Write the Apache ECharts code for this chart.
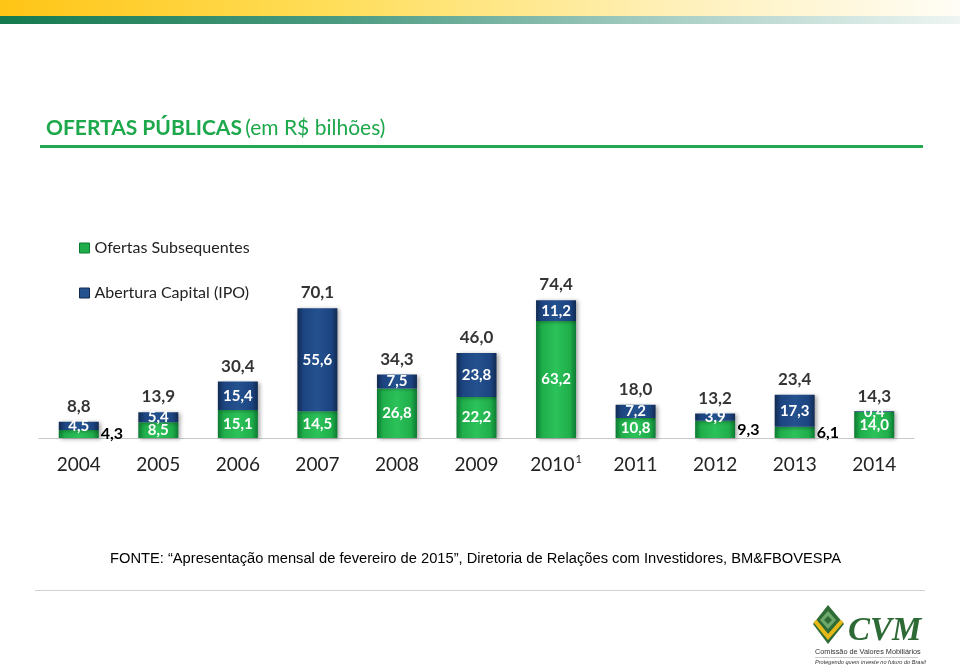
<!DOCTYPE html>
<html>
<head>
<meta charset="utf-8">
<script src="https://cdn.jsdelivr.net/npm/echarts@6/dist/echarts.min.js"></script>
<style>html,body{margin:0;padding:0;background:#fff}#c{width:960px;height:671px}</style>
</head>
<body>
<div id="c"></div>
<script>
const years = ['2004','2005','2006','2007','2008','2009','2010','2011','2012','2013','2014'];
const subsequentes = [4.3, 8.5, 15.1, 14.5, 26.8, 22.2, 63.2, 10.8, 9.3, 6.1, 14.0];
const ipo = [4.5, 5.4, 15.4, 55.6, 7.5, 23.8, 11.2, 7.2, 3.9, 17.3, 0.4];
const totals = [8.8, 13.9, 30.4, 70.1, 34.3, 46.0, 74.4, 18.0, 13.2, 23.4, 14.3];
const seriesNames = ['Ofertas Subsequentes', 'Abertura Capital (IPO)'];

const outsideGreen = [0, 8, 9]; // labels drawn to the right of the bar
const fmt = v => v.toFixed(1).replace('.', ',');
const F = 'Lato, "Open Sans", sans-serif';

const greenGrad = {type:'linear',x:0,y:0,x2:1,y2:0,colorStops:[
  {offset:0,color:'#0d7a33'},{offset:0.15,color:'#1fae4a'},{offset:0.5,color:'#2cc25a'},{offset:0.85,color:'#1fae4a'},{offset:1,color:'#0d7a33'}]};
const blueGrad = {type:'linear',x:0,y:0,x2:1,y2:0,colorStops:[
  {offset:0,color:'#112a52'},{offset:0.15,color:'#1c4480'},{offset:0.5,color:'#24528f'},{offset:0.85,color:'#1c4480'},{offset:1,color:'#112a52'}]};

const greenData = subsequentes.map((v,i) => outsideGreen.includes(i)
  ? {value:v, label:{position:'right', distance:2, color:'#000', fontSize:16}}
  : {value:v});

const chart = echarts.init(document.getElementById('c'), null, {renderer:'canvas'});
chart.setOption({
  animation:false,
  backgroundColor:'#fff',
  grid:{left:39, right:46, top:290, bottom:671-438},
  legend:{
    orient:'vertical', left:74, top:235, itemWidth:10, itemHeight:10, itemGap:29,
    textStyle:{fontFamily:F, fontSize:16, color:'#222'},
    data:[
      {name:seriesNames[0], icon:'rect', itemStyle:{color:'#1fae4a', borderColor:'#0d7a33', borderWidth:1}},
      {name:seriesNames[1], icon:'rect', itemStyle:{color:'#24528f', borderColor:'#112a52', borderWidth:1}}
    ]
  },
  xAxis:{
    type:'category', data:years,
    axisLine:{lineStyle:{color:'#c8c8c8', width:1}},
    axisTick:{show:false},
    axisLabel:{
      interval:0,
      fontFamily:F, fontSize:19, lineHeight:22, color:'#222', margin:16,
      formatter: v => v === '2010' ? '{a|2010}{s|1}' : v,
      rich:{a:{fontFamily:F, fontSize:19, lineHeight:22, color:'#222'}, s:{fontFamily:F, fontSize:11, lineHeight:12, color:'#222', verticalAlign:'top', padding:[0,0,0,1]}}
    }
  },
  yAxis:{type:'value', min:0, max:80, show:false, splitLine:{show:false}},
  series:[
    {
      name:seriesNames[0], type:'bar', stack:'t', barWidth:40, data:greenData,
      itemStyle:{color:greenGrad, shadowBlur:4, shadowColor:'rgba(0,0,0,0.35)', shadowOffsetX:2, shadowOffsetY:1},
      label:{show:true, position:'inside', formatter:p => fmt(p.value), fontFamily:F, fontWeight:'bold', fontSize:15, color:'#fff'}
    },
    {
      name:seriesNames[1], type:'bar', stack:'t', barWidth:40, data:ipo,
      itemStyle:{color:blueGrad, shadowBlur:4, shadowColor:'rgba(0,0,0,0.35)', shadowOffsetX:2, shadowOffsetY:1},
      label:{show:true, position:'inside', formatter:p => fmt(p.value), fontFamily:F, fontWeight:'bold', fontSize:15, color:'#fff'}
    },
    {
      name:'Total', type:'scatter', data:totals, symbolSize:0, silent:true,
      label:{show:true, position:'top', distance:7, formatter:p => fmt(p.value), fontFamily:F, fontWeight:'bold', fontSize:17, color:'#000'}
    }
  ],
  graphic:[
    {type:'rect', shape:{x:0,y:0,width:960,height:16}, style:{fill:{type:'linear',x:0,y:0,x2:1,y2:0,colorStops:[
      {offset:0,color:'#ffc515'},{offset:0.35,color:'#ffde5a'},{offset:0.7,color:'#fff0b8'},{offset:1,color:'#fffdf6'}]}}},
    {type:'rect', shape:{x:0,y:16,width:960,height:8}, style:{fill:{type:'linear',x:0,y:0,x2:1,y2:0,colorStops:[
      {offset:0,color:'#157a4e'},{offset:0.35,color:'#4a9a80'},{offset:0.7,color:'#a9cfc4'},{offset:1,color:'#eef5f3'}]}}},
    {type:'text', left:46, top:118, style:{
      text:'{b|OFERTAS PÚBLICAS} {n|(em R$ bilhões)}',
      rich:{b:{fontFamily:F, fontWeight:'bold', fontSize:21, fill:'#1da84c'}, n:{fontFamily:F, fontSize:21, fill:'#1da84c'}}}},
    {type:'rect', shape:{x:40,y:145,width:883,height:3}, style:{fill:'#22a94f'}},
    {type:'text', left:110, top:551, style:{
      text:'FONTE: \u201cApresentação mensal de fevereiro de 2015\u201d, Diretoria de Relações com Investidores, BM&FBOVESPA',
      fontFamily:'"Liberation Sans", Arial, sans-serif', fontSize:14.7, fill:'#000'}},
    {type:'rect', shape:{x:35,y:590,width:890,height:1}, style:{fill:'#d2d2d2'}},
    // CVM logo
    {type:'polygon', shape:{points:[[828,605],[844,624],[828,644],[813,624]]}, style:{fill:'#2f6b35'}},
    {type:'polyline', shape:{points:[[815,621],[828,637],[842,621]]}, style:{stroke:'#e8b818', lineWidth:4, fill:null}},
    {type:'polygon', shape:{points:[[828,611],[836,620],[828,629],[820,620]]}, style:{fill:'#6fa86c'}},
    {type:'polygon', shape:{points:[[828,616],[832,620],[828,624],[824,620]]}, style:{fill:'#2f6b35'}},
    {type:'text', left:848, top:615, style:{text:'CVM', fontFamily:'"Liberation Serif", serif', fontWeight:'bold', fontStyle:'italic', fontSize:33, fill:'#2d6a35'}},
    {type:'text', left:815, top:648, style:{text:'Comissão de Valores Mobiliários', fontFamily:'"Liberation Sans", sans-serif', fontSize:7.3, fill:'#333'}},
    {type:'rect', shape:{x:815,y:657,width:103,height:0.6}, style:{fill:'#999'}},
    {type:'text', left:815, top:659, style:{text:'Protegendo quem investe no futuro do Brasil', fontFamily:'"Liberation Sans", sans-serif', fontStyle:'italic', fontSize:5.6, fill:'#333'}}
  ]
});
</script>
</body>
</html>
